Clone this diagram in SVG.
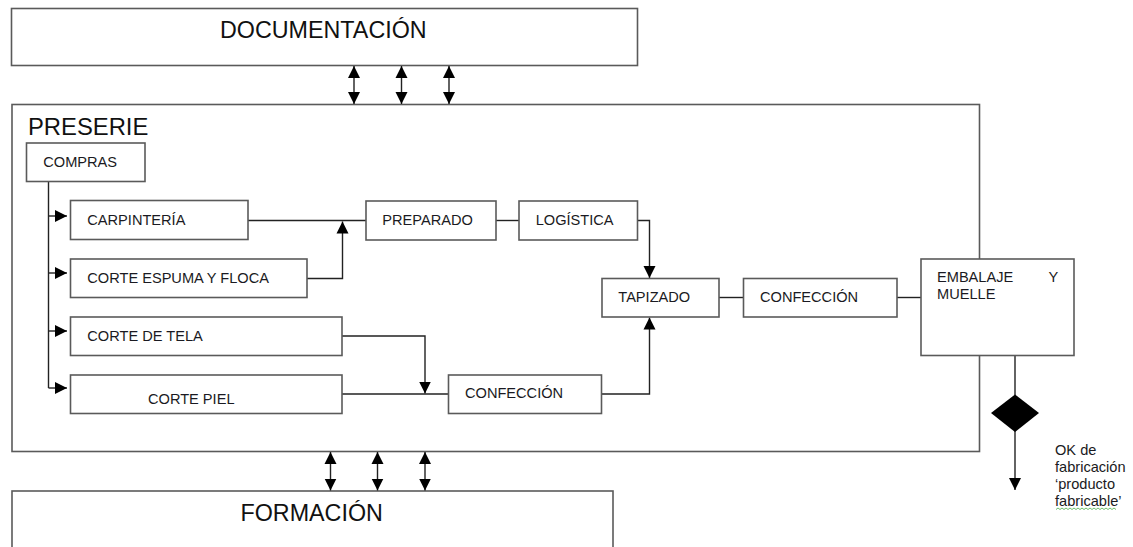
<svg xmlns="http://www.w3.org/2000/svg" width="1133" height="547" viewBox="0 0 1133 547">
  <style>
    .box { fill: #ffffff; stroke: #5a5a5a; stroke-width: 1.6; }
    .big { font-family: "Liberation Sans", Arial, sans-serif; font-size: 23.3px; fill: #111; }
    .lbl { font-family: "Liberation Sans", Arial, sans-serif; font-size: 14.6px; fill: #1a1a22; }
    .con { fill: none; stroke: #222; stroke-width: 1.4; }
  </style>
  <defs>
    <marker id="ah" markerUnits="userSpaceOnUse" markerWidth="13" markerHeight="13" refX="12" refY="6.5" orient="auto-start-reverse">
      <path d="M0,0.5 L12,6.5 L0,12.5 z" fill="#000"/>
    </marker>
  </defs>

  <rect width="1133" height="547" fill="#ffffff"/>

  <!-- outer areas -->
  <g id="documentacion">
    <rect class="box" x="11.5" y="8.5" width="626" height="57"/>
    <text class="big" x="220" y="38">DOCUMENTACIÓN</text>
  </g>
  <g id="preserie">
    <rect class="box" x="12" y="104.5" width="967.5" height="347"/>
    <text class="big" x="28" y="135" style="font-size:23.8px">PRESERIE</text>
  </g>
  <g id="formacion">
    <rect class="box" x="12" y="491" width="601" height="70"/>
    <text class="big" x="240.5" y="520.5">FORMACIÓN</text>
  </g>

  <!-- connectors -->
  <g id="connectors">
    <!-- documentation / training exchanges -->
    <line class="con" x1="354" y1="66" x2="354" y2="104" marker-start="url(#ah)" marker-end="url(#ah)"/>
    <line class="con" x1="401.5" y1="66" x2="401.5" y2="104" marker-start="url(#ah)" marker-end="url(#ah)"/>
    <line class="con" x1="449" y1="66" x2="449" y2="104" marker-start="url(#ah)" marker-end="url(#ah)"/>
    <line class="con" x1="330.5" y1="452" x2="330.5" y2="490.5" marker-start="url(#ah)" marker-end="url(#ah)"/>
    <line class="con" x1="377.5" y1="452" x2="377.5" y2="490.5" marker-start="url(#ah)" marker-end="url(#ah)"/>
    <line class="con" x1="425" y1="452" x2="425" y2="490.5" marker-start="url(#ah)" marker-end="url(#ah)"/>

    <!-- purchasing feeds the cutting stations -->
    <line class="con" x1="48.5" y1="181.5" x2="48.5" y2="388"/>
    <line class="con" x1="48.5" y1="216" x2="67" y2="216" marker-end="url(#ah)"/>
    <line class="con" x1="48.5" y1="273" x2="67" y2="273" marker-end="url(#ah)"/>
    <line class="con" x1="48.5" y1="331" x2="67" y2="331" marker-end="url(#ah)"/>
    <line class="con" x1="48.5" y1="388" x2="67" y2="388" marker-end="url(#ah)"/>

    <!-- structure line -->
    <line class="con" x1="248" y1="220.5" x2="366" y2="220.5"/>
    <polyline class="con" points="307,278.5 342.5,278.5 342.5,221.5" marker-end="url(#ah)"/>
    <line class="con" x1="496" y1="220.5" x2="519" y2="220.5"/>
    <polyline class="con" points="637.5,220.5 649.5,220.5 649.5,278" marker-end="url(#ah)"/>

    <!-- fabric / leather line -->
    <polyline class="con" points="342,336 425,336 425,393.5" marker-end="url(#ah)"/>
    <line class="con" x1="342" y1="394" x2="448.5" y2="394"/>
    <polyline class="con" points="601.5,394 649.5,394 649.5,317.5" marker-end="url(#ah)"/>

    <!-- finishing -->
    <line class="con" x1="719" y1="297.5" x2="743.5" y2="297.5"/>
    <line class="con" x1="897" y1="297.5" x2="921" y2="297.5"/>
    <line class="con" x1="1015" y1="355.5" x2="1015" y2="395"/>
    <line class="con" x1="1015" y1="431" x2="1015" y2="490" marker-end="url(#ah)"/>
  </g>

  <!-- process nodes -->
  <g id="compras">
    <rect class="box" x="26.5" y="143" width="118.5" height="38.5"/>
    <text class="lbl" x="43.3" y="166.5">COMPRAS</text>
  </g>
  <g id="carpinteria">
    <rect class="box" x="70.5" y="200.5" width="177.5" height="39"/>
    <text class="lbl" x="87.3" y="224.5">CARPINTERÍA</text>
  </g>
  <g id="corte-espuma">
    <rect class="box" x="70.5" y="259" width="236.5" height="38.5"/>
    <text class="lbl" x="87.3" y="283">CORTE ESPUMA Y FLOCA</text>
  </g>
  <g id="corte-tela">
    <rect class="box" x="70.5" y="317" width="271.5" height="38.5"/>
    <text class="lbl" x="87.3" y="340.5">CORTE DE TELA</text>
  </g>
  <g id="corte-piel">
    <rect class="box" x="70.5" y="375" width="271.5" height="38.5"/>
    <text class="lbl" x="148" y="404">CORTE PIEL</text>
  </g>
  <g id="preparado">
    <rect class="box" x="366" y="201" width="130" height="39"/>
    <text class="lbl" x="382.3" y="224.5">PREPARADO</text>
  </g>
  <g id="logistica">
    <rect class="box" x="519" y="201" width="118.5" height="39"/>
    <text class="lbl" x="535.7" y="224.5">LOGÍSTICA</text>
  </g>
  <g id="confeccion-piel">
    <rect class="box" x="448.5" y="375" width="153" height="38.5"/>
    <text class="lbl" x="465" y="397.5">CONFECCIÓN</text>
  </g>
  <g id="tapizado">
    <rect class="box" x="602" y="278.5" width="117" height="38.5"/>
    <text class="lbl" x="618.3" y="302">TAPIZADO</text>
  </g>
  <g id="confeccion">
    <rect class="box" x="743.5" y="278.5" width="153.5" height="38.5"/>
    <text class="lbl" x="760" y="302">CONFECCIÓN</text>
  </g>
  <g id="embalaje">
    <rect class="box" x="921" y="259" width="153" height="96.5"/>
    <text class="lbl" x="937" y="282">EMBALAJE</text>
    <text class="lbl" x="1048.5" y="282">Y</text>
    <text class="lbl" x="937" y="298.7">MUELLE</text>
  </g>
  <g id="decision">
    <polygon points="1015,394.5 1039,413 1015,432 991,413" fill="#000"/>
    <text class="lbl" x="1055" y="455">OK de</text>
    <text class="lbl" x="1055" y="472">fabricación</text>
    <text class="lbl" x="1055" y="489">‘producto</text>
    <text class="lbl" x="1055" y="506">fabricable’</text>
    <!-- spell-check squiggle -->
    <path d="M1056,509.5 l2,-1.5 l2,1.5 l2,-1.5 l2,1.5 l2,-1.5 l2,1.5 l2,-1.5 l2,1.5 l2,-1.5 l2,1.5 l2,-1.5 l2,1.5 l2,-1.5 l2,1.5 l2,-1.5 l2,1.5 l2,-1.5 l2,1.5 l2,-1.5 l2,1.5 l2,-1.5 l2,1.5 l2,-1.5 l2,1.5 l2,-1.5 l2,1.5 l2,-1.5 l2,1.5 l2,-1.5 l2,1.5" fill="none" stroke="#5cb85c" stroke-width="0.9"/>
  </g>
</svg>
